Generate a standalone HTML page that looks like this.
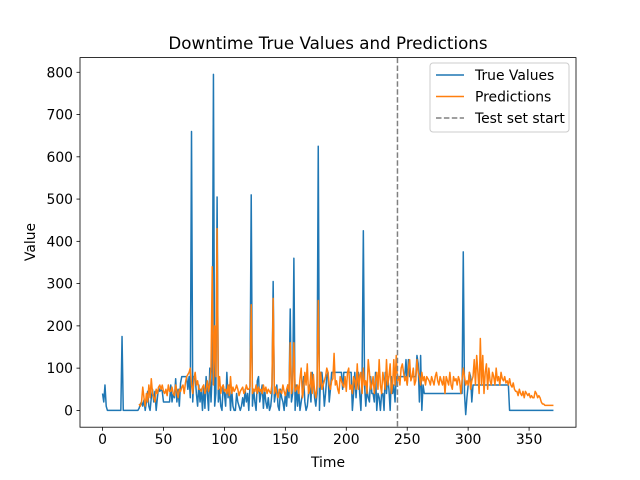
<!DOCTYPE html>
<html><head><meta charset="utf-8"><style>body{margin:0;background:#fff}svg{display:block;font-family:"DejaVu Sans","Liberation Sans",sans-serif}</style></head>
<body>
<svg id="chart" width="640" height="480" viewBox="0 0 640 480">
<rect width="640" height="480" fill="#fff"/>
<text x="328" y="49" font-size="16.7" text-anchor="middle">Downtime True Values and Predictions</text>
<g id="plot"></g>
<text x="328" y="467" font-size="13.9" text-anchor="middle">Time</text>
<text x="35" y="242" font-size="13.9" text-anchor="middle" transform="rotate(-90 35 242)">Value</text>
</svg>
<script>
const trueValues = [40,20,60,10,0,0,0,0,0,0,
0,0,0,0,0,0,175,0,0,0,
0,0,0,0,0,0,0,0,0,0,
5,15,20,10,25,0,20,45,10,0,
30,50,20,45,0,30,55,45,50,45,
20,20,20,20,20,20,60,20,40,30,
75,20,50,10,65,80,80,80,80,80,
50,80,30,660,20,80,80,40,10,60,
20,50,0,60,5,80,40,0,100,20,
90,795,10,40,505,20,50,10,0,60,
40,10,90,30,60,0,50,10,0,0,
40,20,10,0,10,30,10,50,20,40,
0,60,510,10,50,20,0,70,80,20,
40,60,5,50,20,5,30,0,10,40,
305,20,40,60,10,0,50,30,20,0,
40,10,60,30,240,20,40,360,0,60,
10,50,0,20,40,80,20,0,10,40,
60,20,90,70,30,10,40,625,0,90,
90,60,10,40,80,90,20,50,90,90,
90,90,90,90,90,90,90,50,90,90,
90,90,90,90,90,0,40,90,30,80,
90,40,0,90,425,60,10,50,30,20,
80,40,40,20,90,0,40,30,0,40,
40,0,90,40,80,50,0,80,40,60,
20,80,80,80,80,80,80,80,80,120,
60,120,80,80,80,80,80,80,130,110,
20,130,0,60,40,40,40,40,40,40,
40,40,40,40,40,40,40,40,40,40,
40,40,40,40,40,40,40,40,40,40,
40,40,40,40,40,40,375,40,-10,30,
60,90,80,20,60,60,60,60,60,60,
60,60,60,60,60,60,60,60,60,60,
60,60,60,60,60,60,60,60,60,60,
60,60,60,60,0,0,0,0,0,0,
0,0,0,0,0,0,0,0,0,0,
0,0,0,0,0,0,0,0,0,0,
0,0,0,0,0,0,0,0,0,0,
0];
const predStart = 30;
const predictions = [15,10,20,55,30,10,40,20,60,30,
75,40,30,20,50,40,55,60,50,60,
45,40,50,35,60,45,45,55,40,35,
60,45,30,50,45,55,60,40,65,80,
85,90,100,60,40,75,90,60,70,50,
50,45,55,60,40,50,70,45,60,100,
340,60,200,80,430,50,80,40,55,60,
45,50,40,60,35,80,40,55,45,50,
60,50,35,45,50,55,40,45,60,50,
50,55,250,40,50,45,60,40,55,45,
50,40,60,45,55,40,50,45,40,60,
265,40,55,40,30,50,45,40,60,45,
35,50,60,45,160,40,55,160,45,50,
60,40,75,100,30,50,90,60,110,40,
50,90,40,85,45,30,60,260,55,90,
50,60,70,80,100,90,60,50,70,75,
135,60,70,50,40,80,70,60,55,80,
45,90,100,50,60,40,80,70,50,110,
50,80,90,40,100,60,70,40,120,90,
50,60,80,40,70,90,50,120,60,40,
90,70,50,120,60,80,110,40,60,120,
60,130,70,80,60,100,110,90,70,80,
60,100,120,70,80,100,60,70,120,90,
80,60,90,70,80,60,80,75,70,60,
80,70,60,80,90,70,60,80,70,60,
80,40,80,70,60,90,60,50,80,70,
75,60,80,70,40,70,100,80,60,70,
60,90,50,70,80,120,60,130,90,40,
170,60,130,40,90,110,50,100,70,60,
90,80,60,100,70,80,60,90,75,70,
80,65,70,60,75,60,55,65,50,45,
45,35,50,40,35,45,30,45,40,35,
40,30,35,30,30,45,40,30,35,30,
20,15,15,12,12,12,12,12,12,12,
12];
const testStart = 242;
const xTicks = [0,50,100,150,200,250,300,350];
const yTicks = [0,100,200,300,400,500,600,700,800];

const L=80,R=576,T=57.6,B=427.2;
const xMin=-18.5,xMax=388.5,yMin=-39.75,yMax=834.75;
const xs=v=>L+(v-xMin)/(xMax-xMin)*(R-L);
const ys=v=>B-(v-yMin)/(yMax-yMin)*(B-T);
const NS='http://www.w3.org/2000/svg';
const plot=document.getElementById('plot');
function mk(tag,attrs,parent){const e=document.createElementNS(NS,tag);for(const k in attrs)e.setAttribute(k,attrs[k]);(parent||plot).appendChild(e);return e;}

const clip=mk('clipPath',{id:'clp'});
mk('rect',{x:L,y:T,width:R-L,height:B-T},clip);

let d=trueValues.map((v,i)=>(i?'L':'M')+xs(i).toFixed(2)+','+ys(v).toFixed(2)).join('');
const l1=mk('path',{d:d,fill:'none',stroke:'#1f77b4','stroke-width':1.5,'stroke-linejoin':'round','clip-path':'url(#clp)'});


d=predictions.map((v,i)=>(i?'L':'M')+xs(i+predStart).toFixed(2)+','+ys(v).toFixed(2)).join('');
const l2=mk('path',{d:d,fill:'none',stroke:'#ff7f0e','stroke-width':1.5,'stroke-linejoin':'round','clip-path':'url(#clp)'});


const vl=mk('line',{x1:xs(testStart),x2:xs(testStart),y1:T,y2:B,stroke:'#808080','stroke-width':1.5,'stroke-dasharray':'5.5,2.4'});



const fr=mk('rect',{x:L,y:T,width:R-L,height:B-T,fill:'none',stroke:'#000','stroke-width':0.8});



xTicks.forEach(t=>{
  const x=xs(t);
  const tk=mk('line',{x1:x,x2:x,y1:B,y2:B+3.5,stroke:'#000','stroke-width':0.8});
  
  
  const tx=mk('text',{x:x,y:B+17,'font-size':13.9,'text-anchor':'middle'});
  tx.textContent=t;
  
  
});
yTicks.forEach(t=>{
  const y=ys(t);
  const tk=mk('line',{x1:L-3.5,x2:L,y1:y,y2:y,stroke:'#000','stroke-width':0.8});
  
  
  const tx=mk('text',{x:L-7,y:y+5,'font-size':13.9,'text-anchor':'end'});
  tx.textContent=t;
  
  
});

const lg=mk('g',{});


mk('rect',{x:430,y:63,width:139,height:69,rx:3,fill:'#fff','fill-opacity':0.8,stroke:'#ccc','stroke-width':1},lg);
const entries=[['True Values','#1f77b4',''],['Predictions','#ff7f0e',''],['Test set start','#808080','5.5,2.4']];
entries.forEach((e,i)=>{
  const y=75+i*21.5;
  const g=mk('g',{},lg);
  
  
  const a={x1:436,x2:464,y1:y,y2:y,stroke:e[1],'stroke-width':1.5};
  if(e[2])a['stroke-dasharray']=e[2];
  mk('line',a,g);
  const t=mk('text',{x:475,y:y+5,'font-size':13.9},g);
  t.textContent=e[0];
});
</script>
</body></html>
